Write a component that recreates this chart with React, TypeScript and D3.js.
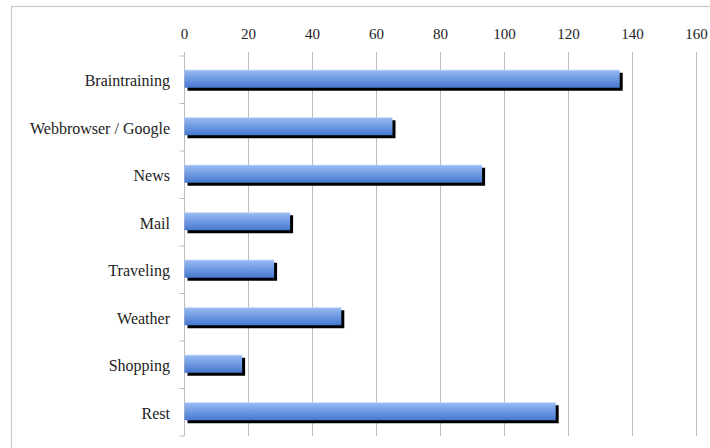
import React from "react";
import * as d3 from "d3";

const categories = [
  "Braintraining",
  "Webbrowser / Google",
  "News",
  "Mail",
  "Traveling",
  "Weather",
  "Shopping",
  "Rest",
];
const values = [136, 65, 93, 33, 28, 49, 18, 116];
const xTicks = [0, 20, 40, 60, 80, 100, 120, 140, 160];

const W = 710;
const H = 448;
const left = 184.5;
const right = 696.5;
const top = 56;
const bottom = 436;

export default function App() {
  const x = d3.scaleLinear().domain([0, 160]).range([left, right]);
  const y = d3.scaleBand<string>().domain(categories).range([top, bottom]).paddingInner(0).paddingOuter(0);
  const bw = y.bandwidth();
  const barH = 18;
  const font = "'Liberation Serif', serif";
  return (
    <svg
      width={W}
      height={H}
      style={{ position: "absolute", left: 0, top: 0, background: "#fff" }}
    >
      <defs>
        <linearGradient id="barGrad" x1="0" y1="0" x2="0" y2="1">
          <stop offset="0%" stopColor="#c2d8f8" />
          <stop offset="9%" stopColor="#92b6f1" />
          <stop offset="100%" stopColor="#4678d0" />
        </linearGradient>
      </defs>
      <rect x={11.5} y={6.5} width={W + 20} height={H + 20} fill="none" stroke="#c8c8c8" strokeWidth={1.2} />
      {xTicks.map((t) => (
        <g key={t}>
          <line x1={x(t)} x2={x(t)} y1={top - 4} y2={bottom} stroke="#bdbdbd" strokeWidth={1} />
          <text
            x={x(t)}
            y={39}
            textAnchor="middle"
            fontFamily={font}
            fontSize={15}
            fill="#222"
          >
            {t}
          </text>
        </g>
      ))}
      {d3.range(categories.length + 1).map((i) => (
        <line
          key={"ct" + i}
          x1={left - 5}
          x2={left}
          y1={top + i * bw}
          y2={top + i * bw}
          stroke="#bdbdbd"
          strokeWidth={1}
        />
      ))}
      {categories.map((c, i) => {
        const y0 = (y(c) as number) + (bw - barH) / 2 - 1;
        const w = x(values[i]) - x(0);
        return (
          <g key={c}>
            <rect x={x(0) + 3} y={y0 + 3} width={w} height={barH} fill="#000" />
            <rect x={x(0)} y={y0} width={w} height={barH} fill="url(#barGrad)" />
            <text
              x={170}
              y={(y(c) as number) + bw / 2 + 1}
              textAnchor="end"
              dominantBaseline="central"
              fontFamily={font}
              fontSize={16}
              fill="#222"
            >
              {c}
            </text>
          </g>
        );
      })}
    </svg>
  );
}
